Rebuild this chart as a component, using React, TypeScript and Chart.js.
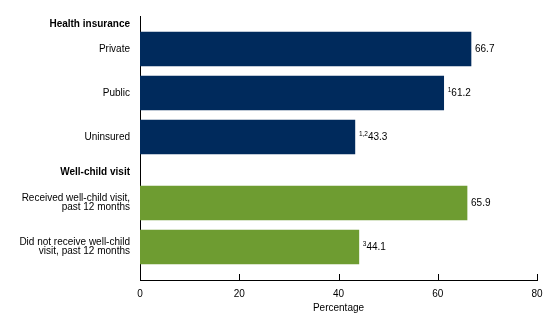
import React, { useEffect, useRef } from "react";
import { Chart, registerables } from "chart.js";

Chart.register(...registerables);

// ---- data ----
const groupTitles = ["Health insurance", "Well-child visit"];
const insuranceCategories: (string | string[])[] = ["Private", "Public", "Uninsured"];
const insuranceValues = [66.7, 61.2, 43.3];
const insuranceNotes = ["", "1", "1,2"];
const visitCategories: (string | string[])[] = [
  ["Received well-child visit,", "past 12 months"],
  ["Did not receive well-child", "visit, past 12 months"],
];
const visitValues = [65.9, 44.1];
const visitNotes = ["", "3"];
const xTickValues = [0, 20, 40, 60, 80];
const xTitle = "Percentage";

// ---- styles ----
const NAVY = "#002A5C";
const GREEN = "#6E9C31";
const FONT = '"Liberation Sans", Arial, Helvetica, sans-serif';
const headerLineHeights = [0.54, 1.66];

const groups = [
  { title: groupTitles[0], cats: insuranceCategories, vals: insuranceValues, notes: insuranceNotes, color: NAVY },
  { title: groupTitles[1], cats: visitCategories, vals: visitValues, notes: visitNotes, color: GREEN },
];

// build category slots: header, then each category followed by a spacer
const labels: (string | string[])[] = [];
const data: (number | null)[] = [];
const colors: string[] = [];
const notes: string[] = [];
const headerGroup: number[] = [];
groups.forEach((g, gi) => {
  labels.push([g.title, ""]);
  data.push(null);
  colors.push(g.color);
  notes.push("");
  headerGroup.push(gi);
  g.cats.forEach((c, i) => {
    labels.push(c);
    data.push(g.vals[i]);
    colors.push(g.color);
    notes.push(g.notes[i]);
    headerGroup.push(-1);
    labels.push("");
    data.push(null);
    colors.push(g.color);
    notes.push("");
    headerGroup.push(-1);
  });
});

const valueLabels = {
  id: "valueLabels",
  afterDatasetsDraw(chart: any) {
    const ctx = chart.ctx;
    const meta = chart.getDatasetMeta(0);
    meta.data.forEach((el: any, i: number) => {
      const v = data[i];
      if (v == null) return;
      let x = el.x + 4;
      const base = el.y + 3.3;
      ctx.save();
      ctx.fillStyle = "#000";
      ctx.textAlign = "left";
      ctx.textBaseline = "alphabetic";
      if (notes[i]) {
        ctx.font = `6.5px ${FONT}`;
        ctx.fillText(notes[i], x, base - 4);
        x += ctx.measureText(notes[i]).width;
      }
      ctx.font = `10px ${FONT}`;
      ctx.fillText(v.toFixed(1), x, base);
      ctx.restore();
    });
  },
};

const innerTicks = {
  id: "innerTicks",
  afterDraw(chart: any) {
    const s = chart.scales.x;
    const ctx = chart.ctx;
    const b = chart.chartArea.bottom;
    ctx.save();
    ctx.strokeStyle = "#000";
    ctx.lineWidth = 1;
    s.ticks.forEach((_t: any, i: number) => {
      const px = Math.round(s.getPixelForTick(i)) + 0.5;
      ctx.beginPath();
      ctx.moveTo(px, b);
      ctx.lineTo(px, b - 6);
      ctx.stroke();
    });
    ctx.restore();
  },
};

export default function App() {
  const ref = useRef<HTMLCanvasElement | null>(null);
  useEffect(() => {
    if (!ref.current) return;
    const chart = new Chart(ref.current, {
      type: "bar",
      data: {
        labels,
        datasets: [
          {
            data,
            backgroundColor: colors,
            borderWidth: 0,
            barThickness: 34,
          } as any,
        ],
      },
      options: {
        indexAxis: "y",
        animation: false,
        responsive: true,
        maintainAspectRatio: false,
        layout: { padding: { top: 16, right: 23, bottom: 0, left: 0 } },
        plugins: { legend: { display: false }, tooltip: { enabled: false } },
        scales: {
          x: {
            type: "linear",
            min: 0,
            max: 80,
            afterBuildTicks: (s: any) => {
              s.ticks = xTickValues.map((v) => ({ value: v }));
            },
            grid: { display: false, drawTicks: false },
            border: { display: true, color: "#000", width: 1 },
            ticks: { padding: 8, color: "#000", font: { family: FONT, size: 10 } },
            title: {
              display: true,
              text: xTitle,
              color: "#000",
              font: { family: FONT, size: 10 },
              padding: { top: 0, bottom: 14 },
            },
            afterFit: (s: any) => {
              s.height = 48;
            },
          },
          y: {
            type: "category",
            offset: true,
            grid: { display: false, drawTicks: false },
            border: { display: true, color: "#000", width: 1 },
            ticks: {
              autoSkip: false,
              padding: 10,
              color: "#000",
              font: (c: any) => {
                const hg = headerGroup[c.index];
                if (hg !== undefined && hg >= 0) {
                  return { family: FONT, size: 10, weight: "bold", lineHeight: headerLineHeights[hg] };
                }
                return { family: FONT, size: 10, lineHeight: 0.92 };
              },
            },
            afterFit: (s: any) => {
              s.width = 140;
            },
          },
        },
      } as any,
      plugins: [valueLabels, innerTicks],
    });
    return () => chart.destroy();
  }, []);
  return (
    <div style={{ position: "fixed", left: 0, top: 0, width: 560, height: 328, background: "#fff" }}>
      <canvas ref={ref} />
    </div>
  );
}
